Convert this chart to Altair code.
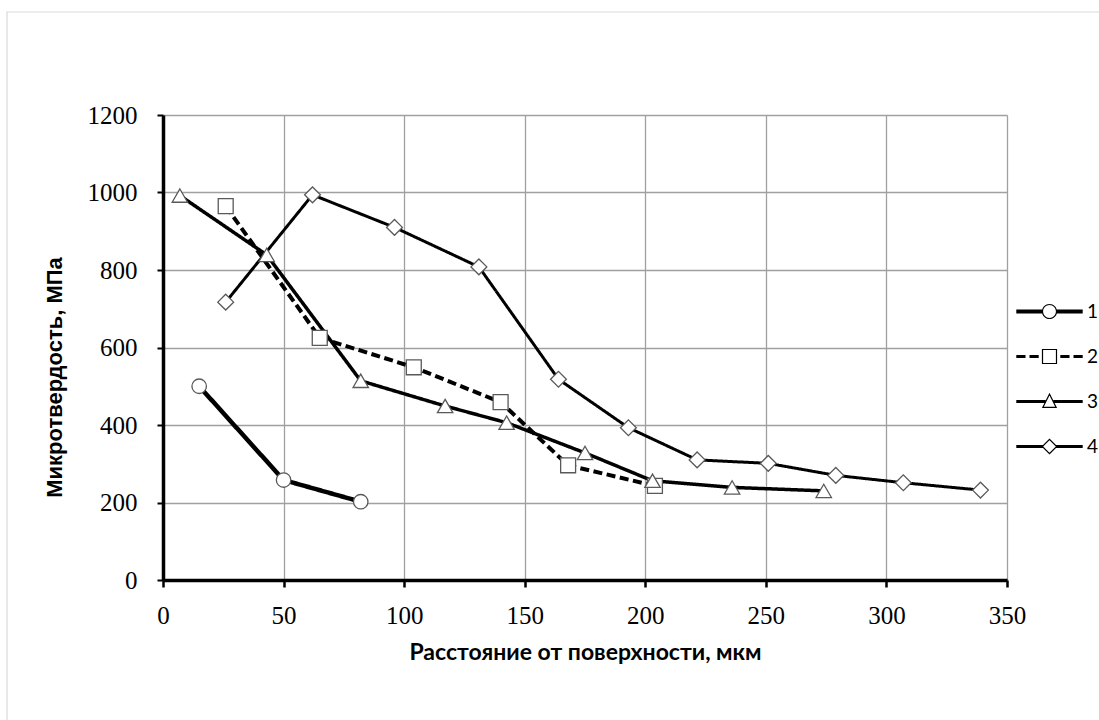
import altair as alt
import pandas as pd

# Microhardness profiles versus depth below the surface, four specimens
series_names = ["1", "2", "3", "4"]

depth_1 = [15, 50, 82]
hard_1 = [500, 258, 202]

depth_2 = [26, 65, 104, 140, 168, 204]
hard_2 = [965, 625, 549, 459, 296, 243]

depth_3 = [7, 43, 82, 117, 142.5, 175, 203, 236, 274]
hard_3 = [992, 839, 514, 449, 406, 328, 256, 239, 230]

depth_4 = [26, 62, 96, 131, 164, 193, 221.5, 251, 279, 307, 339]
hard_4 = [717, 994, 910, 808, 518, 393, 310, 301, 270, 251, 232]

x_ticks = [0, 50, 100, 150, 200, 250, 300, 350]
y_ticks = [0, 200, 400, 600, 800, 1000, 1200]

rows = []
for name, xs, ys in zip(series_names,
                        [depth_1, depth_2, depth_3, depth_4],
                        [hard_1, hard_2, hard_3, hard_4]):
    for i, (xv, yv) in enumerate(zip(xs, ys)):
        rows.append({"series": name, "order": i, "depth": xv, "hardness": yv})
df = pd.DataFrame(rows)

# ---- legend glyphs: a line with the marker in the middle, as filled outlines
def fmt(v):
    return f"{v:.3f}".rstrip("0").rstrip(".")

def bar(x0, x1, h):
    return f"M{fmt(x0)},{fmt(-h)}H{fmt(x1)}V{fmt(h)}H{fmt(x0)}Z"

def solid_line(gap, h, reach=4.15):
    return bar(-reach, -gap, h) + bar(gap, reach, h)

def dashed_line(gap, h, reach=4.15, dash=1.15, space=0.5):
    parts = []
    x = -reach
    while x < -gap - 0.05:
        parts.append(bar(x, min(x + dash, -gap), h))
        x += dash + space
    x = reach
    while x > gap + 0.05:
        parts.append(bar(max(x - dash, gap), x, h))
        x -= dash + space
    return "".join(parts)

def ring(r_out, r_in):
    return (f"M{fmt(-r_out)},0A{fmt(r_out)},{fmt(r_out)} 0 1,1 {fmt(r_out)},0"
            f"A{fmt(r_out)},{fmt(r_out)} 0 1,1 {fmt(-r_out)},0Z"
            f"M{fmt(-r_in)},0A{fmt(r_in)},{fmt(r_in)} 0 1,0 {fmt(r_in)},0"
            f"A{fmt(r_in)},{fmt(r_in)} 0 1,0 {fmt(-r_in)},0Z")

def square_frame(a, b):
    return (f"M{fmt(-a)},{fmt(-a)}H{fmt(a)}V{fmt(a)}H{fmt(-a)}Z"
            f"M{fmt(-b)},{fmt(-b)}V{fmt(b)}H{fmt(b)}V{fmt(-b)}Z")

def triangle_frame():
    return ("M0,-1.1L0.95,0.8L-0.95,0.8Z"
            "M0,-0.765L-0.707,0.65L0.707,0.65Z")

def diamond_frame():
    return ("M0,-1L1,0L0,1L-1,0Z"
            "M0,-0.788L-0.788,0L0,0.788L0.788,0Z")

legend_paths = [
    solid_line(0.9, 0.26) + ring(0.95, 0.8),
    dashed_line(0.95, 0.19) + square_frame(0.95, 0.8),
    solid_line(0.5, 0.19) + triangle_frame(),
    solid_line(0.82, 0.19) + diamond_frame(),
]

x_enc = alt.X("depth:Q",
              scale=alt.Scale(domain=[0, 350], nice=False, zero=False),
              axis=alt.Axis(values=x_ticks, format="d",
                            title="Расстояние от поверхности, мкм",
                            titleFont="Lato", titleFontWeight="bold", titleFontSize=23,
                            titleColor="black", titleY=72, titleBaseline="middle",
                            labelFont="Liberation Serif", labelFontSize=25,
                            labelColor="black", labelPadding=16, labelFlush=False,
                            tickSize=7, tickWidth=2.5, tickColor="black",
                            domainColor="black", domainWidth=3.5,
                            grid=True, gridColor="#a0a0a0", gridWidth=1.3))
y_enc = alt.Y("hardness:Q",
              scale=alt.Scale(domain=[0, 1200], nice=False, zero=False),
              axis=alt.Axis(values=y_ticks, format="d",
                            title="Микротвердость, МПа",
                            titleFont="Liberation Sans", titleFontWeight="bold",
                            titleFontSize=22, titleColor="black",
                            titleAngle=270, titleX=-102, titleY=262,
                            titleAlign="center", titleBaseline="alphabetic",
                            labelFont="Liberation Serif", labelFontSize=25,
                            labelColor="black", labelPadding=20, labelFlush=False,
                            tickSize=6, tickWidth=2, tickColor="black",
                            domainColor="black", domainWidth=3.5,
                            grid=True, gridColor="#a0a0a0", gridWidth=1.3))

base = alt.Chart(df)

frame = alt.Chart(alt.Data(values=[{}])).mark_rect(
    filled=False, color="#d9d9d9", strokeWidth=1.2
).encode(
    x=alt.value(-156), x2=alt.value(1099 - 163 + 10),
    y=alt.value(-103), y2=alt.value(720 - 115 + 10),
)

lines = base.mark_line(color="black", strokeJoin="round").encode(
    x=x_enc, y=y_enc,
    order="order:Q",
    strokeDash=alt.StrokeDash("series:N",
                              scale=alt.Scale(domain=series_names,
                                              range=[[1, 0], [9, 4.5], [1, 0], [1, 0]]),
                              legend=None),
    strokeWidth=alt.StrokeWidth("series:N",
                                scale=alt.Scale(domain=series_names, range=[4.5, 3, 3, 3]),
                                legend=None),
)

points = base.mark_point(filled=True, fill="white", stroke="#595959",
                         strokeWidth=1.3, opacity=1).encode(
    x="depth:Q", y="hardness:Q",
    shape=alt.Shape("series:N",
                    scale=alt.Scale(domain=series_names,
                                    range=["circle", "square", "triangle-up", "diamond"]),
                    legend=None),
    size=alt.Size("series:N",
                  scale=alt.Scale(domain=series_names, range=[210, 250, 340, 330]),
                  legend=None),
)

legend_layer = base.mark_point(filled=True, color="black", opacity=0).encode(
    x="depth:Q", y="hardness:Q",
    shape=alt.Shape("series:N",
                    scale=alt.Scale(domain=series_names, range=legend_paths),
                    legend=alt.Legend(title=None, orient="none", legendX=844, legendY=187,
                                      padding=0, symbolSize=256, symbolFillColor="black",
                                      symbolStrokeWidth=0, symbolOpacity=1,
                                      symbolOffset=33, labelOffset=28, rowPadding=25,
                                      labelFont="Lato", labelFontSize=19,
                                      labelColor="black")),
)

chart = alt.layer(frame, lines, points, legend_layer).resolve_scale(
    shape="independent"
).properties(
    width=844, height=465,
    autosize=alt.AutoSizeParams(type="none"),
    padding={"left": 163, "top": 115, "right": 92, "bottom": 140},
    background="white",
).configure_view(strokeWidth=0)

chart.save("out.html", embed_options={"renderer": "svg", "actions": False})
